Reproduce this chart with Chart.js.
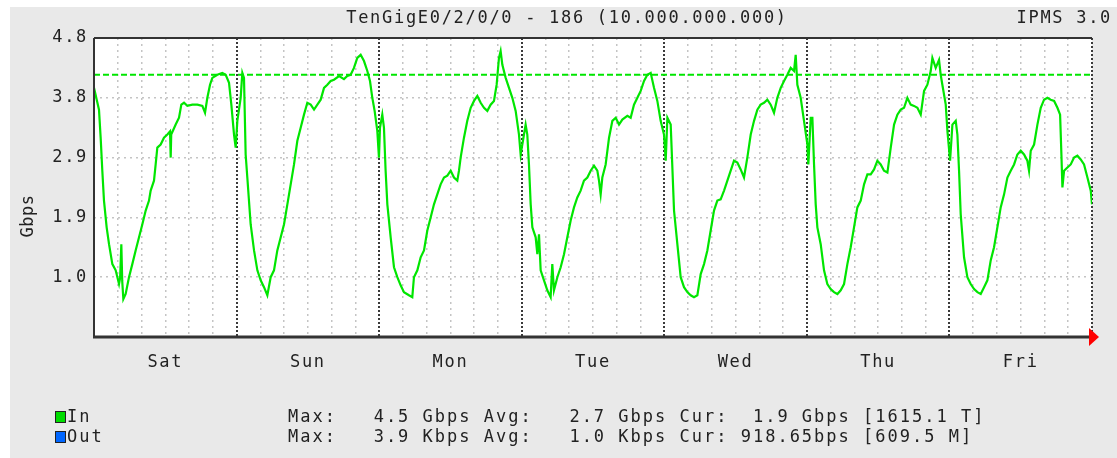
<!DOCTYPE html>
<html><head><meta charset="utf-8">
<script src="https://cdn.jsdelivr.net/npm/chart.js@4/dist/chart.umd.min.js"></script>
<style>html,body{margin:0;padding:0;background:#fff;}canvas{display:block}</style>
</head><body>
<div style="width:1117px;height:458px;position:relative"><canvas id="c" width="1117" height="458"></canvas></div>
<script>
const chartTitle = 'TenGigE0/2/0/0 - 186 (10.000.000.000)';
const chartTag = 'IPMS 3.0';
const yAxisTitle = 'Gbps';
const dayLabels = ['Sat', 'Sun', 'Mon', 'Tue', 'Wed', 'Thu', 'Fri'];
const yTickValues = [0, 0.96, 1.92, 2.88, 3.84, 4.8];
const thresholdGbps = 4.21;
const legendNames = ['In', 'Out'];
const legendColors = ['#00dd00', '#0066ff'];
const statsLines = [
  'Max:   4.5 Gbps Avg:   2.7 Gbps Cur:  1.9 Gbps [1615.1 T]',
  'Max:   3.9 Kbps Avg:   1.0 Kbps Cur: 918.65bps [609.5 M]'
];
// hours since start of Saturday
const hoursIn = [
  0,0.84,1.12,1.4,1.68,2.13,2.53,3.09,3.65,4.21,4.4,4.6,4.75,4.94,5.33,5.89,6.45,7.01,7.58,8.14,8.7,9.26,9.54,10.1,10.38,10.66,11.22,11.78,12.35,12.8,12.91,13.0,13.75,14.31,14.7,15.15,15.71,16.55,17.4,18.24,18.69,19.08,19.53,19.92,20.76,21.6,22.17,22.73,23.12,23.57,23.85,24.13,24.69,24.97,25.25,25.53,25.81,26.37,26.94,27.5,28.06,28.62,29.18,29.74,30.3,30.86,31.43,31.99,32.55,33.11,33.67,34.23,34.79,35.35,35.91,36.48,37.04,37.6,38.16,38.72,39.28,39.84,40.4,41.25,42.08,
  42.64,43.2,43.76,44.32,44.89,45.45,46.01,46.46,46.85,47.24,47.69,47.97,48.14,48.53,48.81,49.09,49.38,49.94,50.5,51.06,51.62,52.18,53.02,53.58,53.86,54.43,54.99,55.55,56.11,56.67,57.23,57.79,58.35,58.92,59.48,60.04,60.6,61.16,61.44,61.72,62.28,62.84,63.41,63.97,64.53,65.09,65.65,66.21,66.77,67.33,67.78,68.17,68.45,68.74,69.3,69.86,70.42,70.98,71.54,71.82,72.1,72.66,72.94,73.22,73.51,73.79,74.35,74.63,74.91,75.19,75.75,76.31,76.87,77.15,77.43,78.0,78.56,79.12,79.68,80.24,80.8,81.36,81.92,82.48,83.05,83.61,84.17,
  84.73,85.01,85.29,85.57,86.13,86.7,87.26,87.82,88.38,88.94,89.78,90.34,90.9,91.47,92.03,92.59,93.15,93.71,94.27,94.83,95.39,95.95,96.24,96.52,97.08,97.36,97.64,98.2,98.76,99.32,99.88,100.44,101.0,101.57,102.13,102.69,103.25,103.81,104.37,104.93,105.49,106.06,106.62,107.18,107.74,108.3,108.86,109.42,109.98,110.55,111.11,111.67,112.23,112.79,113.35,113.91,114.47,115.03,115.6,116.16,116.72,117.28,117.84,118.12,118.4,118.96,119.52,120.09,120.25,120.65,120.93,121.21,121.49,121.77,122.33,122.89,123.45,124.01,124.57,125.14,125.7,126.26,
  126.82,127.38,127.94,128.5,129.07,129.63,130.19,130.75,131.31,131.87,132.43,132.99,133.56,134.12,134.68,135.24,135.8,136.36,136.92,137.48,138.04,138.61,139.17,139.73,140.29,140.85,141.13,141.69,142.25,142.53,142.81,143.38,143.66,144.11,144.5,145.06,145.34,145.62,145.9,146.46,147.02,147.58,148.15,148.71,149.27,149.83,150.39,150.95,151.51,152.07,152.63,153.2,153.76,154.32,154.88,155.44,156.0,156.56,157.12,157.4,157.69,158.25,158.81,159.37,159.93,160.49,161.05,161.62,162.18,162.63,162.85,163.02,163.3,163.86,164.42,164.98,165.54,166.1,166.66,167.23,167.79,168.0
];
const inGbps = [
  4.0,3.65,3.2,2.67,2.19,1.76,1.49,1.17,1.07,0.85,0.95,1.49,0.9,0.61,0.69,0.96,1.17,1.39,1.6,1.81,2.03,2.19,2.35,2.51,2.77,3.04,3.09,3.2,3.25,3.3,2.88,3.25,3.41,3.52,3.73,3.76,3.71,3.73,3.73,3.71,3.6,3.84,4.05,4.16,4.21,4.24,4.21,4.08,3.73,3.25,3.04,3.47,3.84,4.24,4.16,2.93,2.56,1.81,1.39,1.07,0.91,0.8,0.67,0.96,1.07,1.39,1.6,1.81,2.13,2.45,2.77,3.15,3.36,3.57,3.76,3.73,3.65,3.73,3.81,4.0,4.05,4.11,4.13,4.19,4.14,
  4.19,4.21,4.32,4.48,4.53,4.43,4.27,4.11,3.84,3.63,3.31,2.88,3.36,3.57,3.36,2.67,2.13,1.6,1.12,0.96,0.83,0.72,0.67,0.64,0.96,1.07,1.28,1.39,1.71,1.92,2.13,2.29,2.45,2.56,2.59,2.67,2.56,2.51,2.67,2.88,3.2,3.47,3.68,3.79,3.87,3.76,3.68,3.63,3.73,3.79,4.05,4.48,4.59,4.37,4.16,4.0,3.84,3.63,3.25,2.93,3.09,3.41,3.25,2.77,2.13,1.76,1.6,1.33,1.65,1.07,0.91,0.75,0.64,1.17,0.75,0.96,1.12,1.33,1.6,1.87,2.08,2.24,2.35,2.51,2.56,2.67,2.75,
  2.67,2.51,2.29,2.56,2.77,3.2,3.47,3.52,3.41,3.49,3.55,3.52,3.73,3.84,3.95,4.11,4.21,4.24,4.0,3.79,3.47,3.25,2.83,3.52,3.41,2.72,2.03,1.49,0.96,0.8,0.72,0.67,0.64,0.67,1.01,1.17,1.39,1.71,2.03,2.19,2.21,2.35,2.51,2.67,2.83,2.8,2.69,2.56,2.88,3.25,3.47,3.65,3.73,3.76,3.81,3.73,3.6,3.84,4.0,4.11,4.21,4.32,4.27,4.53,4.05,3.84,3.47,3.09,2.77,3.52,3.52,2.77,2.13,1.76,1.49,1.07,0.85,0.77,0.72,0.69,0.75,0.85,
  1.17,1.44,1.76,2.08,2.19,2.45,2.61,2.61,2.69,2.83,2.77,2.67,2.64,3.04,3.41,3.57,3.65,3.68,3.84,3.73,3.71,3.68,3.57,3.95,4.05,4.27,4.48,4.32,4.45,4.21,4.05,3.73,3.31,2.83,3.41,3.47,3.25,2.67,1.97,1.28,0.96,0.85,0.77,0.72,0.69,0.8,0.91,1.23,1.44,1.76,2.08,2.29,2.56,2.67,2.77,2.93,2.99,2.93,2.83,2.67,2.99,3.09,3.41,3.68,3.81,3.84,3.81,3.79,3.68,3.57,2.93,2.4,2.67,2.72,2.77,2.88,2.91,2.85,2.77,2.56,2.35,2.13
];

const MONO = '"DejaVu Sans Mono", "Liberation Mono", monospace';
const xTickHours = [];
for (let h = 0; h <= 168; h += 4) xTickHours.push(h);

const decor = {
  id: 'decor',
  beforeDraw(chart) {
    const {ctx, chartArea: a, width, height} = chart;
    ctx.save();
    ctx.fillStyle = '#ffffff'; ctx.fillRect(0, 0, width, height);
    ctx.fillStyle = '#e9e9e9'; ctx.fillRect(10, 7, width - 10, height - 7);
    ctx.fillStyle = '#ffffff'; ctx.fillRect(a.left, a.top, a.right - a.left, a.bottom - a.top);
    ctx.restore();
    ctx.letterSpacing = '1.7px';
  },
  afterDraw(chart) {
    const {ctx, chartArea: a} = chart;
    ctx.save();
    // frame
    ctx.strokeStyle = '#333333';
    ctx.lineWidth = 2;
    ctx.beginPath(); ctx.moveTo(a.left, a.top); ctx.lineTo(a.right, a.top); ctx.stroke();
    ctx.beginPath(); ctx.moveTo(a.left, a.top); ctx.lineTo(a.left, a.bottom + 1); ctx.stroke();
    ctx.lineWidth = 3;
    ctx.beginPath(); ctx.moveTo(a.left - 1, a.bottom); ctx.lineTo(a.right, a.bottom); ctx.stroke();
    // arrow
    ctx.fillStyle = '#ff0000';
    ctx.beginPath(); ctx.moveTo(a.right - 3, a.bottom - 9); ctx.lineTo(a.right + 7, a.bottom); ctx.lineTo(a.right - 3, a.bottom + 9); ctx.closePath(); ctx.fill();
    // texts
    ctx.fillStyle = '#222222';
    ctx.font = '17px ' + MONO;
    ctx.textBaseline = 'middle';
    ctx.letterSpacing = '1.7px';
    ctx.textAlign = 'center';
    ctx.fillText(chartTitle, 567, 19);
    ctx.textAlign = 'right';
    ctx.fillText(chartTag, 1112, 19);
    ctx.save();
    ctx.translate(29, 216);
    ctx.rotate(-Math.PI / 2);
    ctx.textAlign = 'center';
    ctx.letterSpacing = '0.5px';
    ctx.fillText(yAxisTitle, 0, 0);
    ctx.restore();
    // legend
    ctx.textAlign = 'left';
    ctx.font = '17px ' + MONO;
    ctx.letterSpacing = '2.0px';
    for (let i = 0; i < legendNames.length; i++) {
      const y = 417 + i * 20;
      ctx.fillStyle = legendColors[i];
      ctx.fillRect(55, y - 6, 11, 12);
      ctx.strokeStyle = '#222'; ctx.lineWidth = 1;
      ctx.strokeRect(55.5, y - 5.5, 10, 11);
      ctx.fillStyle = '#222222';
      ctx.fillText(legendNames[i], 67, y + 1);
      ctx.fillText(statsLines[i], 288, y + 1);
    }
    ctx.restore();
  }
};

const darkDay = v => v % 24 === 0;

new Chart(document.getElementById('c'), {
  type: 'line',
  data: {
    datasets: [
      {
        label: legendNames[0],
        data: hoursIn.map((h, i) => ({x: h, y: inGbps[i]})),
        borderColor: '#00e600',
        borderWidth: 2.2,
        pointRadius: 0,
        tension: 0,
        fill: false
      },
      {
        label: 'threshold',
        data: [{x: 0, y: thresholdGbps}, {x: 168, y: thresholdGbps}],
        borderColor: '#00e600',
        borderWidth: 2,
        borderDash: [6, 3],
        pointRadius: 0,
        fill: false
      }
    ]
  },
  options: {
    responsive: false,
    animation: false,
    devicePixelRatio: 1,
    layout: {padding: {left: 0, top: 38, right: 25, bottom: 0}},
    plugins: {legend: {display: false}, tooltip: {enabled: false}, title: {display: false}},
    scales: {
      x: {
        type: 'linear', min: 0, max: 168,
        afterBuildTicks: s => { s.ticks = xTickHours.map(v => ({value: v})); },
        afterFit: s => { s.height = 121; },
        ticks: {
          autoSkip: false, maxRotation: 0, padding: 15, color: '#222',
          font: {family: MONO, size: 17},
          callback: v => (v % 24 === 12 ? dayLabels[(v - 12) / 24] : '')
        },
        grid: {
          drawTicks: false,
          color: c => (c.tick && c.tick.value === 0 ? 'rgba(0,0,0,0)' : (c.tick && darkDay(c.tick.value) ? '#3a3a3a' : '#c4c4c4')),
          lineWidth: c => (c.tick && darkDay(c.tick.value) ? 2 : 1.5)
        },
        border: {display: false, dash: c => (c.tick && darkDay(c.tick.value) ? [2, 2] : [2, 4])}
      },
      y: {
        min: 0, max: 4.8,
        afterBuildTicks: s => { s.ticks = yTickValues.map(v => ({value: v})); },
        afterFit: s => { s.width = 94; },
        ticks: {
          padding: 6, color: '#222',
          font: {family: MONO, size: 17},
          callback: v => (v === 0 ? '' : v.toFixed(1))
        },
        grid: {
          drawTicks: false,
          color: c => (c.tick && (c.tick.value === 0 || c.tick.value === 4.8) ? 'rgba(0,0,0,0)' : '#c4c4c4'),
          lineWidth: 1.5
        },
        border: {display: false, dash: [2, 4]}
      }
    }
  },
  plugins: [decor]
});
</script>
</body></html>
